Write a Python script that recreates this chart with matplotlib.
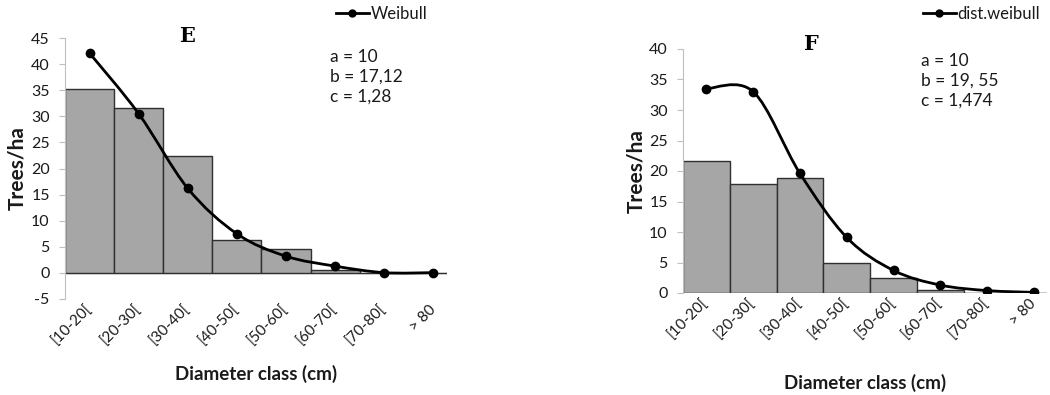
import matplotlib.pyplot as plt
import numpy as np
from matplotlib.path import Path
from matplotlib.patches import PathPatch
from matplotlib.lines import Line2D

plt.rcParams['font.family'] = ['Lato', 'DejaVu Sans']
plt.rcParams['axes.unicode_minus'] = False

# classes de diametre
categorias = ['[10-20[', '[20-30[', '[30-40[', '[40-50[', '[50-60[', '[60-70[', '[70-80[', '> 80']

# panel E
barras_e = [35.2, 31.5, 22.3, 6.3, 4.5, 0.5, 0, 0]
weibull_e = [42.1, 30.5, 16.2, 7.5, 3.2, 1.3, 0.05, 0.05]
params_e = 'a = 10\nb = 17,12\nc = 1,28'

# panel F
barras_f = [21.7, 17.9, 18.9, 4.9, 2.5, 0.5, 0, 0]
weibull_f = [33.5, 33.0, 19.6, 9.1, 3.7, 1.3, 0.4, 0.1]
params_f = 'a = 10\nb = 19, 55\nc = 1,474'

gris_eje = '#bfbfbf'
texto = '#1a1a1a'


def curva_suave(ax, x, y):
    # linea suavizada tipo Excel (Bezier por tramos, Catmull-Rom)
    pts = np.column_stack([x, y]).astype(float)
    n = len(pts)
    verts = [pts[0]]
    codes = [Path.MOVETO]
    for i in range(n - 1):
        p0 = pts[i - 1] if i > 0 else pts[i]
        p1 = pts[i]
        p2 = pts[i + 1]
        p3 = pts[i + 2] if i + 2 < n else pts[i + 1]
        c1 = p1 + (p2 - p0) / 6
        c2 = p2 - (p3 - p1) / 6
        verts += [c1, c2, p2]
        codes += [Path.CURVE4] * 3
    ax.add_patch(PathPatch(Path(verts, codes), fill=False, lw=2, color='black', zorder=3))
    ax.plot(x, y, 'o', color='black', ms=6, zorder=4)


def panel(fig, rect, barras, curva, ymin, ymax, titulo, titulo_pos, params, params_pos,
          leyenda, leyenda_pos, ylabel_x, xlabel_y):
    ax = fig.add_axes(rect)
    x = np.arange(len(categorias))
    ax.bar(x, barras, width=1.0, color='#a6a6a6', edgecolor='#303030', linewidth=1, zorder=2)
    curva_suave(ax, x, curva)
    ax.set_xlim(-0.5, 7.28)
    ax.set_ylim(ymin, ymax)
    ax.set_yticks(np.arange(ymin, ymax + 1, 5))
    ax.set_xticks(x)
    ax.set_xticklabels(categorias, rotation=45, ha='right', va='center', rotation_mode='anchor')
    for s in ['top', 'right', 'bottom']:
        ax.spines[s].set_visible(False)
    ax.spines['left'].set_color(gris_eje)
    ax.axhline(0, color=gris_eje, lw=1, zorder=1)
    ax.tick_params(axis='y', length=4, color=gris_eje, labelsize=11.5, pad=7, labelcolor=texto)
    ax.tick_params(axis='x', length=0, labelsize=11, pad=6, labelcolor=texto)
    ax.set_ylabel('Trees/ha', fontsize=15, fontweight='bold', color=texto)
    ax.yaxis.set_label_coords(ylabel_x, 0.5)
    ax.set_xlabel('Diameter class (cm)', fontsize=13.5, fontweight='bold', color=texto)
    ax.xaxis.set_label_coords(0.5, xlabel_y)

    fig.text(titulo_pos[0], titulo_pos[1], titulo, fontsize=15, fontweight='bold',
             family='DejaVu Serif', ha='center', va='center')
    fig.text(params_pos[0], params_pos[1], params, fontsize=12.5, va='top', ha='left',
             linespacing=1.3, color=texto)
    h = Line2D([], [], color='black', lw=2, marker='o', ms=5)
    fig.legend([h], [leyenda], loc='center left', bbox_to_anchor=leyenda_pos, frameon=False,
               fontsize=12, handlelength=2.0, handletextpad=0.1, borderaxespad=0,
               labelcolor=texto)
    return ax


fig = plt.figure(figsize=(10.5, 3.95), dpi=100)

panel(fig, [65 / 1050, 96 / 395, 382 / 1050, 261 / 395], barras_e, weibull_e, -5, 45,
      'E', (187 / 1050, 1 - 36 / 395), params_e, (330 / 1050, 1 - 49 / 395),
      'Weibull', (329 / 1050, 1 - 14 / 395), -0.10, -0.253)

panel(fig, [683 / 1050, 102 / 395, 364 / 1050, 244 / 395], barras_f, weibull_f, 0, 40,
      'F', (811 / 1050, 1 - 44 / 395), params_f, (921 / 1050, 1 - 53 / 395),
      'dist.weibull', (916 / 1050, 1 - 14 / 395), -0.10, -0.33)

fig.savefig('out.png', dpi=100)
